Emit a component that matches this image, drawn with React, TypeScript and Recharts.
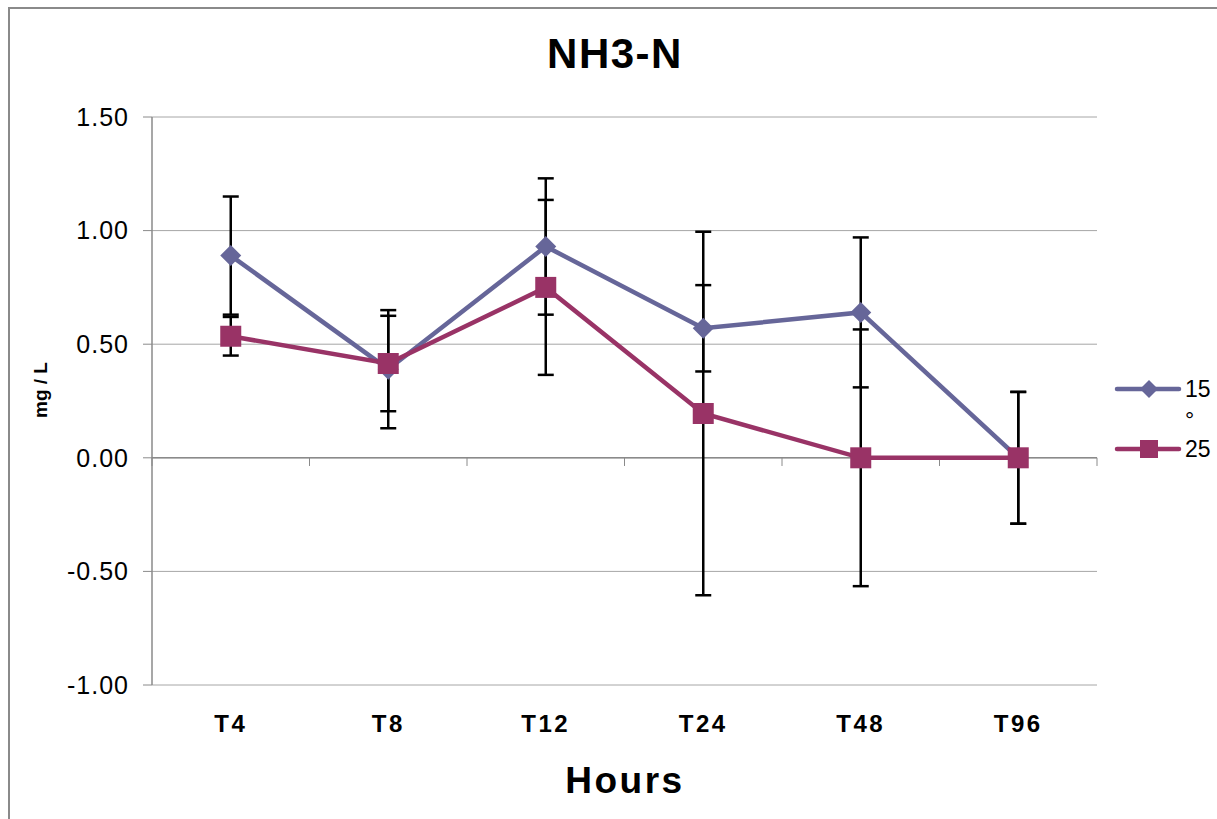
import React from "react";
import { LineChart, Line, XAxis, YAxis, CartesianGrid, ReferenceLine, ErrorBar, Legend } from "recharts";

const categories = ["T4", "T8", "T12", "T24", "T48", "T96"];
const temp15 = [0.89, 0.39, 0.93, 0.57, 0.64, 0];
const err15 = [0.26, 0.26, 0.3, 0.19, 0.33, 0.29];
const temp25 = [0.535, 0.415, 0.75, 0.195, 0, 0];
const err25 = [0.085, 0.21, 0.385, 0.8, 0.565, 0.29];
const yTicks = [-1, -0.5, 0, 0.5, 1, 1.5];

const BLUE = "#666699";
const RED = "#993366";
const FONT = "'Liberation Sans', Arial, sans-serif";

const data = categories.map((c, i) => ({
  x: i + 0.5,
  name: c,
  t15: temp15[i],
  e15: err15[i],
  t25: temp25[i],
  e25: err25[i],
}));
const xTicks = data.map((d) => d.x);
const boundaries = categories.map((_, i) => i).concat(categories.length);

const Diamond = (props: any) => {
  const { cx, cy, index } = props;
  const r = 10.5;
  return <polygon key={index} points={`${cx},${cy - r} ${cx + r},${cy} ${cx},${cy + r} ${cx - r},${cy}`} fill={BLUE} />;
};

const Square = (props: any) => {
  const { cx, cy, index } = props;
  const s = 21;
  return <rect key={index} x={cx - s / 2} y={cy - s / 2} width={s} height={s} fill={RED} />;
};

const legendItems = [
  { label: "15 °", color: BLUE, shape: "diamond" },
  { label: "25", color: RED, shape: "square" },
];

const LegendBox = () => (
  <svg width={107} height={110} style={{ display: "block" }}>
    {legendItems.map((it, i) => {
      const cy = 29 + i * 60;
      return (
        <g key={it.label}>
          <line x1={7} x2={69} y1={cy} y2={cy} stroke={it.color} strokeWidth={4.5} strokeLinecap="round" />
          {it.shape === "diamond" ? (
            <polygon points={`39,${cy - 9} 48,${cy} 39,${cy + 9} 30,${cy}`} fill={it.color} />
          ) : (
            <rect x={30} y={cy - 9} width={18} height={18} fill={it.color} />
          )}
          <text x={75} y={cy + 8} fontSize={23} fontFamily={FONT} fill="#000">
            {it.label.split(" ").map((part, k) => (
              <tspan key={k} x={75} dy={k === 0 ? 0 : 31}>
                {part}
              </tspan>
            ))}
          </text>
        </g>
      );
    })}
  </svg>
);

export default function App() {
  return (
    <div style={{ position: "absolute", left: 0, top: 0, width: 1217, height: 819, background: "#fff", fontFamily: FONT }}>
      <div
        style={{
          position: "absolute",
          left: 8,
          top: 7,
          width: 1217,
          height: 819,
          borderLeft: "2px solid #8a8a8a",
          borderTop: "2px solid #8a8a8a",
        }}
      />
      <LineChart width={1217} height={819} data={data} margin={{ top: 117, right: 120, bottom: 0, left: 0 }}>
        <CartesianGrid horizontal vertical={false} stroke="#a6a6a6" strokeWidth={1} />
        <XAxis
          dataKey="x"
          type="number"
          domain={[0, categories.length]}
          ticks={xTicks}
          tickFormatter={(v: number) => categories[Math.floor(v)]}
          axisLine={false}
          tickLine={false}
          height={134}
          tickMargin={24}
          tick={{ fontSize: 24, fontWeight: "bold", fill: "#000", fontFamily: FONT, letterSpacing: 2.5 }}
        />
        <YAxis
          domain={[-1, 1.5]}
          ticks={yTicks}
          width={152}
          axisLine={{ stroke: "#8a8a8a", strokeWidth: 1.5 }}
          tickLine={{ stroke: "#8a8a8a" }}
          tickSize={9}
          tickMargin={14}
          tickFormatter={(v: number) => v.toFixed(2)}
          tick={{ fontSize: 25, fill: "#000", fontFamily: FONT, letterSpacing: 1 }}
        />
        <ReferenceLine y={0} stroke="#8a8a8a" strokeWidth={1.5} />
        {boundaries.map((b) => (
          <ReferenceLine
            key={b}
            segment={[
              { x: b, y: 0 },
              { x: b, y: -0.036 },
            ]}
            stroke="#8a8a8a"
          />
        ))}
        <Legend
          layout="vertical"
          align="center"
          verticalAlign="middle"
          wrapperStyle={{ left: 1110, top: 360, width: 107 }}
          content={() => <LegendBox />}
        />
        <Line
          dataKey="t15"
          name="15 °"
          stroke={BLUE}
          strokeWidth={4.5}
          dot={(p: any) => <Diamond {...p} key={p.index} />}
          activeDot={false}
          isAnimationActive={false}
        >
          <ErrorBar dataKey="e15" direction="y" width={8} stroke="#000" strokeWidth={2.5} />
        </Line>
        <Line
          dataKey="t25"
          name="25"
          stroke={RED}
          strokeWidth={4.5}
          dot={(p: any) => <Square {...p} key={p.index} />}
          activeDot={false}
          isAnimationActive={false}
        >
          <ErrorBar dataKey="e25" direction="y" width={8} stroke="#000" strokeWidth={2.5} />
        </Line>
      </LineChart>
      <svg width={1217} height={819} style={{ position: "absolute", left: 0, top: 0, pointerEvents: "none" }}>
        <text x={615} y={68} textAnchor="middle" fontSize={42} fontWeight="bold" fontFamily={FONT} letterSpacing={1.5}>
          NH3-N
        </text>
        <text
          x={0}
          y={0}
          transform="translate(47,390) rotate(-90)"
          textAnchor="middle"
          fontSize={19}
          fontWeight="bold"
          fontFamily={FONT}
        >
          mg / L
        </text>
        <text x={625} y={793} textAnchor="middle" fontSize={37} fontWeight="bold" fontFamily={FONT} letterSpacing={2.5}>
          Hours
        </text>
      </svg>
    </div>
  );
}
